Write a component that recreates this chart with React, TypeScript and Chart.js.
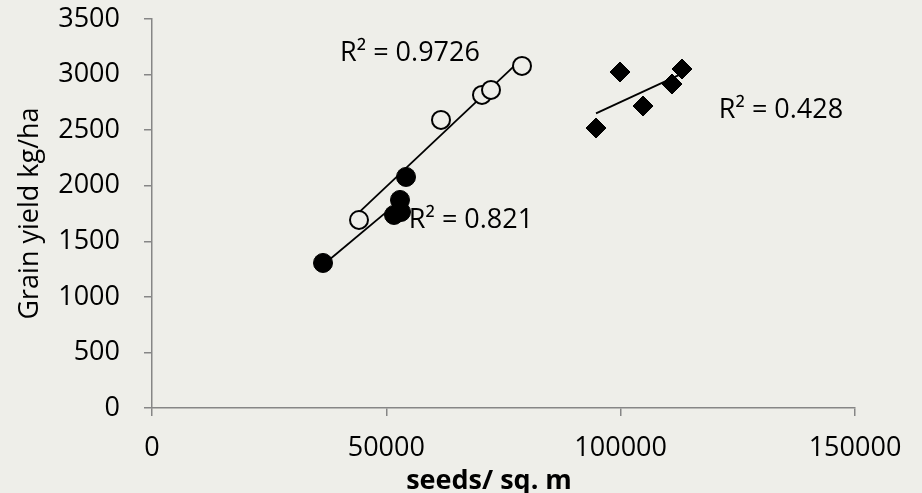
import React, { useEffect, useRef } from "react";
import { Chart, registerables } from "chart.js";

Chart.register(...registerables);

// Series: filled circles
const filledX = [36490, 51636, 52916, 53130, 54197];
const filledY = [1305, 1737, 1872, 1764, 2079];
// Series: open circles
const openX = [44168, 61664, 70412, 72333, 78947];
const openY = [1692, 2592, 2817, 2862, 3078];
// Series: diamonds
const diamondX = [94740, 99860, 104770, 110950, 113090];
const diamondY = [2519, 3023, 2717, 2915, 3050];

// R² labels (text, anchor in data units)
const r2Texts = ["R² = 0.9726", "R² = 0.428", "R² = 0.821"];
const r2AnchorX = [55050, 134210, 68065];
const r2AnchorY = [3195, 2682, 1692];

const xTitle = "seeds/ sq. m";
const yTitle = "Grain yield kg/ha";

const BG = "#eeeee9";
const AXIS = "#868686";
const FONT = "'Open Sans', 'Noto Sans', sans-serif";

function pts(xs: number[], ys: number[]) {
  return xs.map((x, i) => ({ x, y: ys[i] }));
}

function trend(xs: number[], ys: number[]) {
  const n = xs.length;
  const mx = xs.reduce((a, b) => a + b, 0) / n;
  const my = ys.reduce((a, b) => a + b, 0) / n;
  let sxy = 0, sxx = 0;
  for (let i = 0; i < n; i++) {
    sxy += (xs[i] - mx) * (ys[i] - my);
    sxx += (xs[i] - mx) * (xs[i] - mx);
  }
  const b = sxy / sxx;
  const a = my - b * mx;
  const x0 = Math.min(...xs);
  const x1 = Math.max(...xs);
  return [
    { x: x0, y: a + b * x0 },
    { x: x1, y: a + b * x1 },
  ];
}

const bgPlugin = {
  id: "bgFill",
  beforeDraw(chart: any) {
    const { ctx, width, height } = chart;
    ctx.save();
    ctx.fillStyle = BG;
    ctx.fillRect(0, 0, width, height);
    ctx.restore();
  },
};

const labelPlugin = {
  id: "r2Labels",
  afterDatasetsDraw(chart: any) {
    const { ctx, chartArea } = chart;
    const xs = chart.scales.x;
    const ys = chart.scales.y;
    ctx.save();
    ctx.font = `27px ${FONT}`;
    ctx.fillStyle = "#000";
    ctx.textAlign = "center";
    ctx.textBaseline = "middle";
    r2Texts.forEach((t, i) => {
      ctx.fillText(t, xs.getPixelForValue(r2AnchorX[i]), ys.getPixelForValue(r2AnchorY[i]));
    });
    // x axis title
    ctx.font = `bold 27px ${FONT}`;
    ctx.fillText(xTitle, (chartArea.left + chartArea.right) / 2 - 14.5, chartArea.bottom + 73);
    ctx.restore();
  },
};

export default function App() {
  const ref = useRef<HTMLCanvasElement | null>(null);

  useEffect(() => {
    if (!ref.current) return;
    const lineStyle = {
      type: "scatter" as const,
      showLine: true,
      borderColor: "#000",
      borderWidth: 1.8,
      pointRadius: 0,
      pointHoverRadius: 0,
      fill: false,
      order: 2,
    };
    const chart = new Chart(ref.current, {
      type: "scatter",
      data: {
        datasets: [
          {
            label: "filled",
            data: pts(filledX, filledY),
            pointStyle: "circle",
            pointRadius: 9.5,
            pointBackgroundColor: "#000",
            pointBorderColor: "#000",
            pointBorderWidth: 1,
            order: 1,
          },
          {
            label: "open",
            data: pts(openX, openY),
            pointStyle: "circle",
            pointRadius: 9,
            pointBackgroundColor: BG,
            pointBorderColor: "#000",
            pointBorderWidth: 2,
            order: 1,
          },
          {
            label: "diamond",
            data: pts(diamondX, diamondY),
            pointStyle: "rectRot",
            pointRadius: 10,
            pointBackgroundColor: "#000",
            pointBorderColor: "#000",
            pointBorderWidth: 1,
            order: 1,
          },
          { ...lineStyle, label: "t1", data: trend(filledX, filledY) },
          { ...lineStyle, label: "t2", data: trend(openX, openY) },
          { ...lineStyle, label: "t3", data: trend(diamondX, diamondY) },
        ] as any,
      },
      options: {
        animation: false,
        responsive: false,
        maintainAspectRatio: false,
        layout: { padding: { top: 19, right: 67, left: 0, bottom: 0 } },
        plugins: {
          legend: { display: false },
          tooltip: { enabled: false },
          title: { display: false },
        },
        scales: {
          x: {
            type: "linear",
            min: 0,
            max: 150000,
            ticks: {
              stepSize: 50000,
              color: "#000",
              font: { family: FONT, size: 27 },
              padding: 16,
              maxRotation: 0,
              callback: (v: any) => String(v),
            },
            grid: {
              display: true,
              drawOnChartArea: false,
              drawTicks: true,
              tickLength: 8,
              color: AXIS,
              lineWidth: 1.5,
            },
            border: { display: true, color: AXIS, width: 1.5 },
            title: { display: false },
            afterFit: (s: any) => {
              s.height = 85;
              s.paddingLeft = 0;
              s.paddingRight = 0;
            },
          },
          y: {
            type: "linear",
            min: 0,
            max: 3500,
            ticks: {
              stepSize: 500,
              color: "#000",
              font: { family: FONT, size: 27 },
              padding: 24,
              callback: (v: any) => String(v),
            },
            grid: {
              display: true,
              drawOnChartArea: false,
              drawTicks: true,
              tickLength: 8,
              color: AXIS,
              lineWidth: 1.5,
            },
            border: { display: true, color: AXIS, width: 1.5 },
            title: {
              display: true,
              text: yTitle,
              color: "#000",
              font: { family: FONT, size: 27, lineHeight: 1.2 },
              padding: { top: 14, bottom: 0 },
            },
            afterFit: (s: any) => {
              s.width = 152;
              s.paddingTop = 0;
              s.paddingBottom = 0;
            },
          },
        },
      } as any,
      plugins: [bgPlugin, labelPlugin],
    });
    return () => chart.destroy();
  }, []);

  return (
    <div style={{ position: "fixed", left: 0, top: 0, width: 922, height: 493, background: BG }}>
      <canvas ref={ref} width={922} height={493} style={{ width: 922, height: 493, display: "block" }} />
    </div>
  );
}
